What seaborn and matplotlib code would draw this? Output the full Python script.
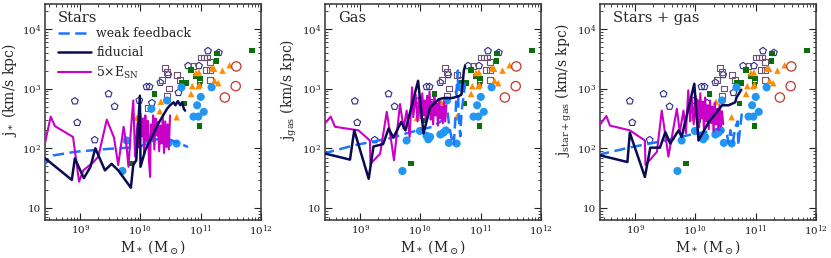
import numpy as np
import seaborn as sns
import matplotlib
matplotlib.use("Agg")
import matplotlib.pyplot as plt
from matplotlib.ticker import LogLocator, FuncFormatter, NullFormatter

# observed galaxies: log10(M*/Msun), log10(j / km/s kpc)
pent_m = [8.91, 8.95, 9.24, 9.47, 9.57, 9.98, 10.10, 10.15, 10.19, 10.33, 10.46, 10.63, 10.79, 10.97, 11.12, 11.30]
pent_j = [2.79, 2.43, 2.14, 2.91, 2.70, 2.80, 3.03, 3.03, 2.76, 3.10, 3.23, 2.93, 3.38, 3.38, 3.63, 3.60]

osq_m = [10.12, 10.36, 10.40, 10.44, 10.44, 10.48, 10.60, 10.65, 10.88, 10.98, 11.00, 11.05, 11.10, 11.08, 11.15, 11.16, 11.16]
osq_j = [2.68, 3.15, 3.34, 3.27, 2.87, 3.00, 3.22, 3.15, 3.37, 3.15, 3.52, 3.52, 3.52, 3.31, 3.44, 3.31, 3.15]

gsq_m = [9.84, 10.05, 10.23, 10.69, 10.76, 10.73, 10.84, 10.91, 10.99, 10.98, 10.98, 11.26, 11.27, 11.85]
gsq_j = [1.74, 2.47, 2.91, 3.10, 3.09, 2.75, 3.31, 3.20, 3.17, 3.07, 2.37, 3.46, 3.59, 3.64]

tri_m = [9.94, 10.32, 10.34, 10.60, 10.84, 10.86, 10.92, 10.96, 10.97, 10.98, 11.19, 11.22, 11.23, 11.29, 11.36, 11.48]
tri_j = [2.51, 2.62, 2.78, 2.52, 2.91, 3.04, 3.26, 3.04, 3.27, 3.06, 3.34, 3.33, 3.13, 3.09, 3.30, 3.39]

dot_m = [9.70, 9.77, 9.99, 10.10, 10.13, 10.16, 10.18, 10.33, 10.38, 10.42, 10.44, 10.47, 10.60, 10.68, 10.88, 10.94, 10.96, 11.00, 11.05, 11.18]
dot_j = [1.62, 2.13, 2.29, 2.21, 2.15, 2.19, 2.66, 2.23, 2.26, 2.30, 2.80, 2.09, 2.08, 3.02, 2.53, 2.72, 2.53, 2.86, 2.61, 3.02]

ring_m = [11.40, 11.58, 11.59]
ring_j = [2.85, 3.04, 3.37]

# simulations, panel 1: stars
stars_weak_m = [8.383, 8.45, 8.55, 8.91, 9.47, 9.97, 10.24, 10.38, 10.50, 10.63, 10.79]
stars_weak_j = [1.66, 1.80, 1.88, 1.94, 1.99, 2.02, 2.14, 2.18, 2.14, 2.09, 2.02]
stars_fid_m = [8.383, 8.86, 8.91, 9.06, 9.17, 9.25, 9.41, 9.52, 9.63, 9.84, 9.88, 9.93, 9.99, 10.00, 10.08, 10.19, 10.30, 10.44, 10.49, 10.55, 10.58, 10.62, 10.66, 10.69, 10.72, 10.74]
stars_fid_j = [1.86, 1.47, 1.83, 1.50, 1.69, 2.00, 1.63, 1.74, 1.63, 1.34, 1.72, 1.80, 2.88, 1.69, 1.97, 2.19, 2.42, 2.66, 2.72, 2.77, 2.72, 2.79, 2.72, 2.77, 2.66, 2.63]
stars_5x_m = [8.383, 8.51, 8.58, 8.88, 8.98, 9.05, 9.22, 9.30, 9.44, 9.56, 9.63, 9.72, 9.77, 9.80, 9.84, 9.88, 9.91, 9.95, 9.97, 10.00,
              10.02, 10.04, 10.06, 10.08, 10.10, 10.12, 10.14, 10.16, 10.17, 10.19, 10.21, 10.23, 10.25, 10.27, 10.29, 10.31, 10.33, 10.35,
              10.37, 10.39, 10.41, 10.43, 10.45, 10.47, 10.49]
stars_5x_j = [1.94, 2.53, 2.37, 2.19, 1.44, 1.63, 1.77, 1.86, 2.48, 2.18, 1.72, 2.36, 2.02, 1.69, 2.30, 2.80, 1.86, 2.42, 2.02, 2.58,
              2.20, 2.50, 1.90, 2.55, 2.12, 2.46, 1.80, 1.52, 2.40, 2.15, 2.55, 1.98, 2.50, 2.22, 2.44, 1.95, 2.38, 2.08,
              2.52, 1.92, 2.45, 2.02, 2.40, 1.98, 2.55]

# panel 2: gas
gas_weak_m = [8.383, 8.9, 9.5, 9.8, 10.2, 10.35, 10.45, 10.48, 10.52, 10.55, 10.58, 10.6, 10.62, 10.63, 10.66, 10.68, 10.72, 10.74]
gas_weak_j = [1.91, 2.05, 2.17, 2.26, 2.36, 2.46, 2.6, 2.35, 2.15, 2.05, 2.5, 3.0, 3.3, 2.6, 2.2, 2.6, 2.9, 3.1]
gas_fid_m = [8.383, 8.83, 8.90, 9.14, 9.22, 9.38, 9.47, 9.55, 9.68, 9.75, 9.96, 10.05, 10.16, 10.30, 10.38, 10.52, 10.63, 10.68, 10.72, 10.74]
gas_fid_j = [1.92, 1.81, 2.30, 1.49, 2.03, 2.07, 2.33, 2.18, 2.44, 2.30, 3.13, 2.25, 2.68, 2.82, 2.84, 2.84, 2.87, 2.90, 3.30, 3.38]
gas_5x_m = [8.383, 8.51, 8.58, 8.97, 9.16, 9.17, 9.33, 9.44, 9.52, 9.56, 9.66, 9.72, 9.77, 9.82, 9.86, 9.88, 9.92, 9.95, 9.98, 10.00,
            10.03, 10.05, 10.07, 10.09, 10.11, 10.13, 10.15, 10.17, 10.19, 10.21, 10.23, 10.25, 10.27, 10.29, 10.31, 10.33, 10.35,
            10.37, 10.39, 10.41, 10.43]
gas_5x_j = [2.38, 2.53, 2.36, 2.30, 2.13, 1.74, 1.91, 2.61, 2.08, 1.80, 2.74, 2.33, 2.63, 2.19, 3.02, 2.52, 2.90, 2.45, 2.85, 2.50,
            2.92, 2.55, 2.80, 2.42, 2.88, 2.60, 2.95, 2.48, 2.78, 2.40, 2.86, 2.55, 2.75, 2.38, 2.82, 2.50, 2.70,
            2.42, 2.78, 2.45, 2.72]

# panel 3: stars + gas
all_weak_m = [8.383, 8.94, 9.5, 9.88, 10.16, 10.38, 10.52, 10.55, 10.58, 10.62, 10.66, 10.70, 10.71, 10.73, 10.77]
all_weak_j = [1.89, 2.02, 2.13, 2.22, 2.27, 2.33, 2.24, 2.08, 2.30, 2.10, 2.35, 2.45, 2.05, 2.24, 2.60]
all_fid_m = [8.383, 8.87, 8.91, 9.16, 9.25, 9.41, 9.50, 9.58, 9.72, 9.77, 9.98, 10.05, 10.22, 10.36, 10.44, 10.55, 10.66, 10.68, 10.76]
all_fid_j = [1.89, 1.77, 2.26, 1.52, 2.01, 2.01, 2.27, 2.08, 2.30, 2.19, 3.08, 2.13, 2.44, 2.61, 2.72, 2.72, 2.77, 2.85, 2.98]
all_5x_m = [8.383, 8.52, 8.58, 8.91, 9.16, 9.17, 9.36, 9.44, 9.52, 9.55, 9.69, 9.74, 9.80, 9.84, 9.88, 9.91, 9.94, 9.97, 10.00, 10.02,
            10.04, 10.06, 10.08, 10.10, 10.12, 10.14, 10.16, 10.18, 10.20, 10.22, 10.24, 10.26, 10.28, 10.30, 10.32, 10.34, 10.36,
            10.38, 10.40, 10.42, 10.44, 10.46]
all_5x_j = [2.35, 2.54, 2.38, 2.30, 2.13, 1.72, 1.94, 2.63, 2.08, 1.86, 2.66, 2.27, 2.63, 2.25, 2.97, 2.45, 2.85, 2.40, 2.88, 2.48,
            2.80, 2.35, 2.92, 2.50, 2.78, 2.30, 2.85, 2.45, 2.72, 2.32, 2.80, 2.42, 2.70, 2.28, 2.76, 2.40, 2.66,
            2.30, 2.72, 2.36, 2.62, 2.40]

panels = [
    ("Stars", r"j$_*$ (km/s kpc)", (stars_weak_m, stars_weak_j), (stars_fid_m, stars_fid_j), (stars_5x_m, stars_5x_j)),
    ("Gas", r"j$_{\rm gas}$ (km/s kpc)", (gas_weak_m, gas_weak_j), (gas_fid_m, gas_fid_j), (gas_5x_m, gas_5x_j)),
    ("Stars + gas", r"j$_{\rm star+gas}$ (km/s kpc)", (all_weak_m, all_weak_j), (all_fid_m, all_fid_j), (all_5x_m, all_5x_j)),
]

c_weak = "#1a75ff"
c_fid = "#0b0b55"
c_5x = "#c800c8"

sns.set_style("ticks")
plt.rcParams["font.family"] = ["DejaVu Serif"]
plt.rcParams["mathtext.fontset"] = "dejavuserif"


def lin(v):
    return 10 ** np.asarray(v, dtype=float)


def fmt(v, pos):
    e = int(round(np.log10(v)))
    return "10" if e == 1 else r"$10^{%d}$" % e


fig = plt.figure(figsize=(8.31, 2.58), dpi=100)
lefts = [45, 325, 600]

for i, (title, ylab, weak, fid, x5) in enumerate(panels):
    ax = fig.add_axes([lefts[i] / 831, 38 / 258, 216 / 831, 216 / 258])
    ax.set_xscale("log")
    ax.set_yscale("log")

    # observations
    sns.scatterplot(x=lin(pent_m), y=lin(pent_j), marker="p", s=26, facecolor="none",
                    edgecolor="#2b2b8a", linewidth=0.8, ax=ax, legend=False, zorder=2)
    sns.scatterplot(x=lin(osq_m), y=lin(osq_j), marker="s", s=18, facecolor="none",
                    edgecolor="#6e5070", linewidth=0.8, ax=ax, legend=False, zorder=2)
    sns.scatterplot(x=lin(gsq_m), y=lin(gsq_j), marker="s", s=15, color="#0a6e0a",
                    edgecolor="none", ax=ax, legend=False, zorder=2)
    sns.scatterplot(x=lin(tri_m), y=lin(tri_j), marker="^", s=22, color="#ff8c00",
                    edgecolor="none", ax=ax, legend=False, zorder=2)
    sns.scatterplot(x=lin(dot_m), y=lin(dot_j), marker="o", s=34, color="#2196f3",
                    edgecolor="none", ax=ax, legend=False, zorder=2)
    sns.scatterplot(x=lin(ring_m), y=lin(ring_j), marker="o", s=45, facecolor="none",
                    edgecolor="#c0392b", linewidth=0.9, ax=ax, legend=False, zorder=2)

    # simulations
    sns.lineplot(x=lin(weak[0]), y=lin(weak[1]), sort=False, estimator=None, color=c_weak,
                 lw=1.8, linestyle=(0, (4.5, 2.2)), ax=ax, legend=False, zorder=3)
    h_weak = ax.lines[-1]
    sns.lineplot(x=lin(x5[0]), y=lin(x5[1]), sort=False, estimator=None, color=c_5x,
                 lw=1.5, ax=ax, legend=False, zorder=3)
    h_5x = ax.lines[-1]
    sns.lineplot(x=lin(fid[0]), y=lin(fid[1]), sort=False, estimator=None, color=c_fid,
                 lw=1.8, ax=ax, legend=False, zorder=4)
    h_fid = ax.lines[-1]

    ax.set_xlim(2.6e8, 1e12)
    ax.set_ylim(6.3, 2.6e4)
    ax.xaxis.set_major_locator(LogLocator(base=10, numticks=10))
    ax.yaxis.set_major_locator(LogLocator(base=10, numticks=10))
    ax.xaxis.set_minor_locator(LogLocator(base=10, subs=np.arange(2, 10), numticks=20))
    ax.yaxis.set_minor_locator(LogLocator(base=10, subs=np.arange(2, 10), numticks=20))
    ax.xaxis.set_major_formatter(FuncFormatter(fmt))
    ax.yaxis.set_major_formatter(FuncFormatter(fmt))
    ax.xaxis.set_minor_formatter(NullFormatter())
    ax.yaxis.set_minor_formatter(NullFormatter())
    ax.tick_params(which="both", direction="in", top=True, right=True, colors="#222222",
                   labelsize=7.5, pad=2.5)
    ax.tick_params(which="major", length=5, width=0.8)
    ax.tick_params(which="minor", length=2.5, width=0.6)
    for sp in ax.spines.values():
        sp.set_linewidth(1.1)
        sp.set_color("#333333")

    ax.set_xlabel(r"M$_*$ (M$_\odot$)", fontsize=10, labelpad=0)
    ax.set_ylabel(ylab, fontsize=10)
    ax.yaxis.set_label_coords(-0.12, 0.6)
    ax.text(0.06, 0.935, title, transform=ax.transAxes, fontsize=10.5, va="center", ha="left")

    if i == 0:
        ax.legend([h_weak, h_fid, h_5x], ["weak feedback", "fiducial", r"5$\times$E$_{\rm SN}$"],
                  loc="upper left", bbox_to_anchor=(0.035, 0.915), frameon=False, fontsize=9,
                  handlelength=2.7, handletextpad=0.4, labelspacing=0.45, borderaxespad=0)

fig.savefig("out.png", dpi=100)
